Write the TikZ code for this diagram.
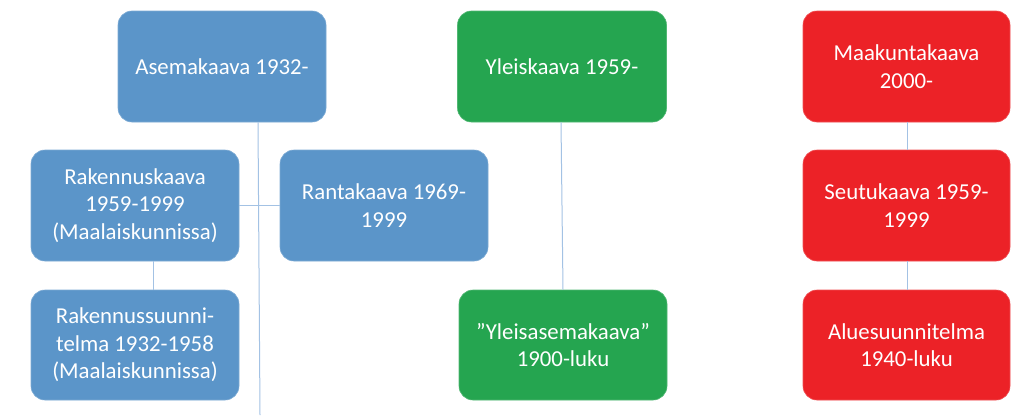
\documentclass[tikz,border=0pt]{standalone}
\usepackage{fontspec}
\setmainfont{Carlito}
\begin{document}
\begin{tikzpicture}[x=1pt,y=-1pt,
  box/.style={rounded corners=14pt, minimum width=#1, align=center, inner sep=0pt,
     text=white, font=\fontsize{22.8}{27.5}\selectfont, line width=0.6pt},
  bl/.style={box=208pt, fill=boxblue, draw=boxblue!80!white},
  gr/.style={box=209pt, fill=boxgreen, draw=boxgreen!80!white},
  rd/.style={box=207pt, fill=boxred, draw=boxred!80!white},
  conn/.style={draw=linecol, line width=1pt}]
\definecolor{boxblue}{HTML}{5B95C9}
\definecolor{boxgreen}{HTML}{25A550}
\definecolor{boxred}{HTML}{EC2227}
\definecolor{linecol}{HTML}{A3C2E4}
\useasboundingbox (0,0) rectangle (1017,415);
% blue
\node[bl, minimum height=111pt] (ase) at (222,66.5) {Asemakaava 1932-};
\node[bl, minimum height=111pt] (rak) at (135,205.5) {Rakennuskaava\\1959-1999\\(Maalaiskunnissa)};
\node[bl, minimum height=111pt] (ran) at (384,205.5) {Rantakaava 1969-\\1999};
\node[bl, minimum height=110pt] (rsu) at (135,345) {Rakennussuunni-\\telma 1932-1958\\(Maalaiskunnissa)};
% green
\node[gr, minimum height=111pt] (yle) at (562,66.5) {Yleiskaava 1959-};
\node[gr, minimum height=110pt, minimum width=208pt] (yam) at (563,345) {”Yleisasemakaava”\\1900-luku};
% red
\node[rd, minimum height=111pt] (maa) at (906.5,66.5) {Maakuntakaava\\2000-};
\node[rd, minimum height=111pt] (seu) at (906.5,205.5) {Seutukaava 1959-\\1999};
\node[rd, minimum height=110pt] (alu) at (906.5,345) {Aluesuunnitelma\\1940-luku};
% connectors
\coordinate (aseend) at (260,415);
\draw[conn] (ase.south -| 258,0) -- (aseend);
\draw[conn] (rak.east) -- (ran.west);
\draw[conn] (rak.south -| 153,0) -- (rsu.north -| 153,0);
\draw[conn] (yle.south -| 561,0) -- (yam.north -| 563,0);
\draw[conn] (maa.south -| 907,0) -- (seu.north -| 907,0);
\draw[conn] (seu.south -| 907,0) -- (alu.north -| 907,0);
\end{tikzpicture}
\end{document}
